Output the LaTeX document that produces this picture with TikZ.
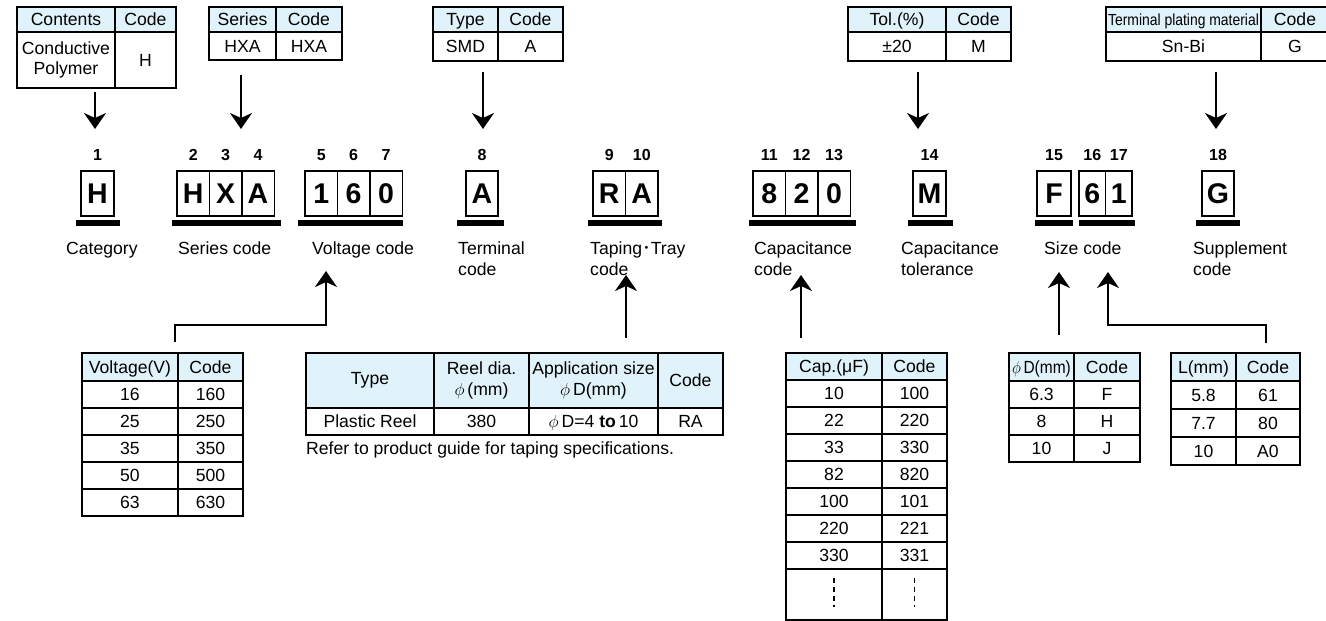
\documentclass[tikz,border=0pt]{standalone}
\usepackage{fontspec}
\setmainfont{Liberation Sans}
\newfontfamily\cjkfont{Noto Sans CJK JP}
\usepackage{xcolor}
\usepackage{graphicx}
\usepackage{tikz}
\usetikzlibrary{arrows.meta, positioning}
\definecolor{headblue}{HTML}{E0F2FA}
\tikzset{
    tcell/.style={rectangle, draw=black, line width=2.8pt, outer sep=0pt, inner sep=0pt, anchor=north west, align=center, font=\fontsize{17.6}{20.5}\selectfont},
    cell/.style={tcell, text height=16pt, text depth=3.4pt},
    headcell/.style={cell, fill=headblue},
    theadcell/.style={tcell, fill=headblue},
    digit/.style={rectangle, draw=black, line width=1.4pt, outer sep=0pt, inner sep=0pt, minimum height=45pt, text height=20pt, text depth=0pt, font=\fontsize{28.5}{28.5}\selectfont\bfseries},
    posnum/.style={inner sep=0pt, font=\fontsize{16}{16}\selectfont\bfseries},
    desc/.style={anchor=north west, inner sep=0pt, align=left, font=\fontsize{17.6}{20.5}\selectfont},
    bar/.style={line width=5.5pt},
    arrow/.style={line width=2.2pt, -{Stealth[length=16pt, width=22pt, inset=5pt]}},
    dots/.style={line width=1.2pt, dash pattern=on 5pt off 4pt}
}

\begin{document}
\begin{tikzpicture}[x=1pt, y=-1pt]
    \useasboundingbox (0,0) rectangle (1326,621);

    % top tables
    \node[headcell, minimum width=98, minimum height=25] (conth) at (17,7) {Contents};
    \node[headcell, minimum width=61, minimum height=25, right=0pt of conth] (contc) {Code};
    \node[tcell, minimum width=98, minimum height=56] (contv) at (17,32) {Conductive\\Polymer};
    \node[cell, minimum width=61, minimum height=56, right=0pt of contv] (contk) {H};

    \node[headcell, minimum width=67, minimum height=25] (serh) at (209,7) {Series};
    \node[headcell, minimum width=66, minimum height=25, right=0pt of serh] (serc) {Code};
    \node[cell, minimum width=67, minimum height=28] (serv) at (209,32) {HXA};
    \node[cell, minimum width=66, minimum height=28, right=0pt of serv] (serk) {HXA};

    \node[headcell, minimum width=65, minimum height=25] (typh) at (433,7) {Type};
    \node[headcell, minimum width=65, minimum height=25, right=0pt of typh] (typc) {Code};
    \node[cell, minimum width=65, minimum height=29] (typv) at (433,32) {SMD};
    \node[cell, minimum width=65, minimum height=29, right=0pt of typv] (typk) {A};

    \node[headcell, minimum width=98, minimum height=25] (tolh) at (848,7) {Tol.(\%)};
    \node[headcell, minimum width=65, minimum height=25, right=0pt of tolh] (tolc) {Code};
    \node[cell, minimum width=98, minimum height=29] (tolv) at (848,32) {±20};
    \node[cell, minimum width=65, minimum height=29, right=0pt of tolv] (tolk) {M};

    \node[headcell, minimum width=155, minimum height=25] (plath) at (1106,7) {\scalebox{0.87}[1]{\fontsize{16}{18}\selectfont Terminal plating material}};
    \node[headcell, minimum width=68, minimum height=25, right=0pt of plath] (platc) {Code};
    \node[cell, minimum width=155, minimum height=29] (platv) at (1106,32) {Sn-Bi};
    \node[cell, minimum width=68, minimum height=29, right=0pt of platv] (platk) {G};

    \foreach \x/\s [count=\i] in {95/92,241/75,483/72,918/72,1216/72}{
        \coordinate (top\i) at (\x,\s);
        \coordinate (tip\i) at (\x,129);
        \draw[arrow] (top\i) -- (tip\i);
    }

    % code letters
    \node[digit, minimum width=33] (c1) at (97.5,193.5) {H};
    \node[digit, minimum width=32.4] (c2) at (193.2,193.5) {H};
    \node[digit, minimum width=32.4, right=0pt of c2] (c3) {X};
    \node[digit, minimum width=32.4, right=0pt of c3] (c4) {A};
    \node[digit, minimum width=32.4] (c5) at (321.2,193.5) {1};
    \node[digit, minimum width=32.4, right=0pt of c5] (c6) {6};
    \node[digit, minimum width=32.4, right=0pt of c6] (c7) {0};
    \node[digit, minimum width=32] (c8) at (482,193.5) {A};
    \node[digit, minimum width=32.5] (c9) at (609.25,193.5) {R};
    \node[digit, minimum width=32.5, right=0pt of c9] (c10) {A};
    \node[digit, minimum width=32.4] (c11) at (769.2,193.5) {8};
    \node[digit, minimum width=32.4, right=0pt of c11] (c12) {2};
    \node[digit, minimum width=32.4, right=0pt of c12] (c13) {0};
    \node[digit, minimum width=33] (c14) at (929.5,193.5) {M};
    \node[digit, minimum width=34] (c15) at (1054,193.5) {F};
    \node[digit, minimum width=26.5] (c16) at (1092.25,193.5) {6};
    \node[digit, minimum width=26.5, right=0pt of c16] (c17) {1};
    \node[digit, minimum width=32] (c18) at (1218,193.5) {G};

    \foreach \i in {1,...,18}
        \node[posnum, above=10pt of c\i] (n\i) {\i};

    \foreach \a/\b/\l/\r in {1/1/5/6, 2/4/5/7, 5/7/7/1, 8/8/9/6, 9/10/5/4, 11/13/4/6, 14/14/5/7, 15/15/2/2, 16/17/0/3, 18/18/6/6}
        \draw[bar] ([xshift=-\l pt, yshift=-7pt]c\a.south west) -- ([xshift=\r pt, yshift=-7pt]c\b.south east);

    % names
    \node[desc] (cat) at (66,242) {Category};
    \node[desc] (ser) at (178,242) {Series code};
    \node[desc] (vol) at (312,242) {Voltage code};
    \node[desc] (ter) at (458,242) {Terminal\\code};
    \node[desc] (tap) at (590,242) {Taping{\cjkfont ･}Tray\\code};
    \node[desc] (capn) at (754,242) {Capacitance\\code};
    \node[desc] (tol) at (901,242) {Capacitance\\tolerance};
    \node[desc] (siz) at (1044,242) {Size code};
    \node[desc] (sup) at (1193,242) {Supplement\\code};

    % voltage table
    \node[headcell, minimum width=96, minimum height=28] (vh1) at (82,353) {Voltage(V)};
    \node[headcell, minimum width=65, minimum height=28, right=0pt of vh1] (vh2) {Code};
    \foreach \a/\b [count=\i] in {16/160,25/250,35/350,50/500,63/630}{
        \node[cell, minimum width=96, minimum height=27] (va\i) at (82,{381+27*(\i-1)}) {\a};
        \node[cell, minimum width=65, minimum height=27, right=0pt of va\i] (vb\i) {\b};
    }

    % taping table
    \node[theadcell, minimum width=128, minimum height=55] (tph1) at (306,353) {Type};
    \node[theadcell, minimum width=95, minimum height=55, right=0pt of tph1] (tph2) {Reel dia.\\$\phi$\,(mm)};
    \node[theadcell, minimum width=129, minimum height=55, right=0pt of tph2] (tph3) {Application size\\$\phi$\,D(mm)};
    \node[theadcell, minimum width=65, minimum height=55, right=0pt of tph3] (tph4) {Code};
    \node[cell, minimum width=128, minimum height=27] (tpa) at (306,408) {Plastic Reel};
    \node[cell, minimum width=95, minimum height=27, right=0pt of tpa] (tpb) {380};
    \node[cell, minimum width=129, minimum height=27, right=0pt of tpb] (tpc) {$\phi$\,D=4 \textbf{to}\,10};
    \node[cell, minimum width=65, minimum height=27, right=0pt of tpc] (tpd) {RA};
    \node[desc] (tpnote) at (306,442) {Refer to product guide for taping specifications.};

    % capacitance table
    \node[headcell, minimum width=96, minimum height=27] (caph1) at (786,353) {Cap.(μF)};
    \node[headcell, minimum width=65, minimum height=27, right=0pt of caph1] (caph2) {Code};
    \foreach \a/\b [count=\i] in {10/100,22/220,33/330,82/820,100/101,220/221,330/331}{
        \node[cell, minimum width=96, minimum height=27] (capa\i) at (786,{380+27*(\i-1)}) {\a};
        \node[cell, minimum width=65, minimum height=27, right=0pt of capa\i] (capb\i) {\b};
    }
    \node[cell, minimum width=96, minimum height=51] (capa8) at (786,569) {};
    \node[cell, minimum width=65, minimum height=51, right=0pt of capa8] (capb8) {};
    \draw[dots] ([yshift=-9pt]capa8.north) -- ([yshift=13pt]capa8.south);
    \draw[dots] ([yshift=-9pt]capb8.north) -- ([yshift=13pt]capb8.south);

    % size tables
    \node[headcell, minimum width=65, minimum height=28] (dh1) at (1009,353) {\scalebox{0.88}[1]{$\phi$\,D(mm)}};
    \node[headcell, minimum width=66, minimum height=28, right=0pt of dh1] (dh2) {Code};
    \foreach \a/\b [count=\i] in {6.3/F,8/H,10/J}{
        \node[cell, minimum width=65, minimum height=27] (da\i) at (1009,{381+27*(\i-1)}) {\a};
        \node[cell, minimum width=66, minimum height=27, right=0pt of da\i] (db\i) {\b};
    }
    \node[headcell, minimum width=65, minimum height=28] (lh1) at (1171,353) {L(mm)};
    \node[headcell, minimum width=64, minimum height=28, right=0pt of lh1] (lh2) {Code};
    \foreach \a/\b [count=\i] in {5.8/61,7.7/80,10/A0}{
        \node[cell, minimum width=65, minimum height=28] (la\i) at (1171,{381+28*(\i-1)}) {\a};
        \node[cell, minimum width=64, minimum height=28, right=0pt of la\i] (lb\i) {\b};
    }

    % connectors up
    \coordinate (vfoot) at (175,342);
    \coordinate (vtip) at (326,271);
    \draw[arrow] (vfoot) -- ++(0,-17) -| (vtip);
    \coordinate (tfoot) at (626,338);
    \coordinate (ttip) at (626,275);
    \draw[arrow] (tfoot) -- (ttip);
    \coordinate (cfoot) at (801,338);
    \coordinate (ctip) at (801,275);
    \draw[arrow] (cfoot) -- (ctip);
    \coordinate (dfoot) at (1059,335);
    \coordinate (dtip) at (1059,272);
    \draw[arrow] (dfoot) -- (dtip);
    \coordinate (lfoot) at (1266,343);
    \coordinate (ltip) at (1108,272);
    \draw[arrow] (lfoot) -- ++(0,-18) -| (ltip);
\end{tikzpicture}
\end{document}
